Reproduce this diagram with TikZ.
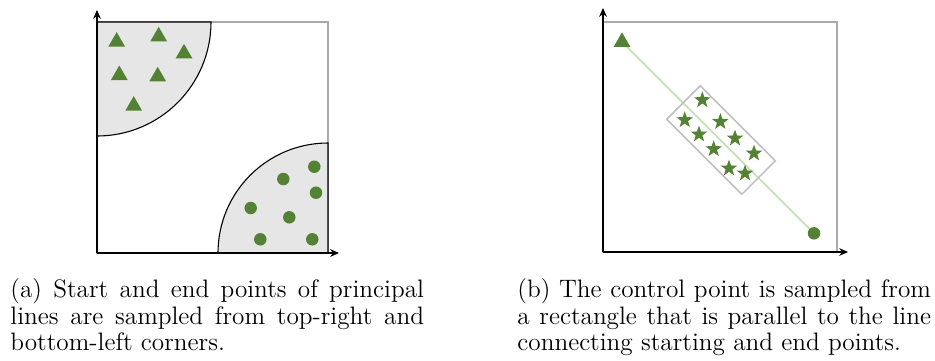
\documentclass[tikz,border=0pt]{standalone}
\usepackage{tikz}
\usetikzlibrary{shapes.geometric,arrows.meta,positioning}
\definecolor{leafgreen}{RGB}{84,130,53}
\definecolor{palegreen}{RGB}{197,224,180}
\definecolor{regiongray}{RGB}{230,230,230}
\definecolor{framegray}{RGB}{170,170,170}
\definecolor{boxgray}{RGB}{191,191,191}

\begin{document}
\begin{tikzpicture}[x=0.016cm, y=-0.016cm,
		axis/.style={-{Stealth[length=4pt,width=3.5pt]}, line width=0.5pt},
		frame/.style={draw=framegray, line width=0.5pt},
		region/.style={fill=regiongray, draw=black, line width=0.5pt},
		tri/.style={regular polygon, regular polygon sides=3, fill=leafgreen, inner sep=0pt, minimum size=0.31cm},
		dot/.style={circle, fill=leafgreen, inner sep=0pt, minimum size=0.2cm},
		starpt/.style={star, star points=5, star point ratio=2.5, fill=leafgreen, inner sep=0pt, minimum size=0.28cm},
		caption/.style={text width=6.62cm, align=justify, inner sep=0pt, anchor=north west, font=\fontsize{11.5}{12.15}\selectfont}]
	\useasboundingbox (0,0) rectangle (935,360);

	% (a) corners
	\draw[frame] (97,22) rectangle (328,253);
	\draw[region] (97,22) -- (211,22) arc[start angle=0, end angle=90, radius=114] -- cycle;
	\draw[region] (328,253) -- (218,253) arc[start angle=180, end angle=270, radius=110] -- cycle;
	\coordinate (oa) at (97,253);
	\draw[axis] (oa) -- (97,10);
	\draw[axis] (oa) -- (339,253);
	\foreach \x/\y [count=\i] in {116.7/41.8, 158.7/36.5, 184/53.5, 119.3/75.2, 157.7/76.5, 133.7/105.8}
		\node[tri] (ta\i) at (\x,\y) {};
	\foreach \x/\y [count=\i] in {314.3/166.7, 283.3/179, 316/192.7, 250.7/208, 289.3/217.3, 260.3/239.3, 312.3/239.3}
		\node[dot] (da\i) at (\x,\y) {};

	% (b) control point
	\draw[frame] (603,22) rectangle (837,252);
	\coordinate (ob) at (603,252);
	\draw[axis] (ob) -- (603,8);
	\draw[axis] (ob) -- (848,252);
	\coordinate (start) at (622,42);
	\coordinate (end) at (814,233.3);
	\draw[palegreen, line width=0.8pt] (start) -- (end);
	\node[tri] (sb) at (start) {};
	\node[dot] (eb) at (end) {};
	\node[draw=boxgray, line width=0.7pt, minimum width=1.70cm, minimum height=0.76cm, inner sep=0pt, rotate=-45] (ctrl) at (721,140) {};
	\foreach \x/\y [count=\i] in {702.3/100, 684.7/120, 720.3/121.7, 699/134.3, 735/138.3, 713.7/149, 754/153.3, 729/168.3, 745/173.3}
		\node[starpt] (cb\i) at (\x,\y) {};

	% captions
	\node[caption] (capa) at (10,278) {(a) Start and end points of principal lines are sampled from top-right and bottom-left corners.};
	\node[caption] (capb) at (517,278) {(b) The control point is sampled from a rectangle that is parallel to the line connecting starting and end points.};
\end{tikzpicture}
\end{document}
